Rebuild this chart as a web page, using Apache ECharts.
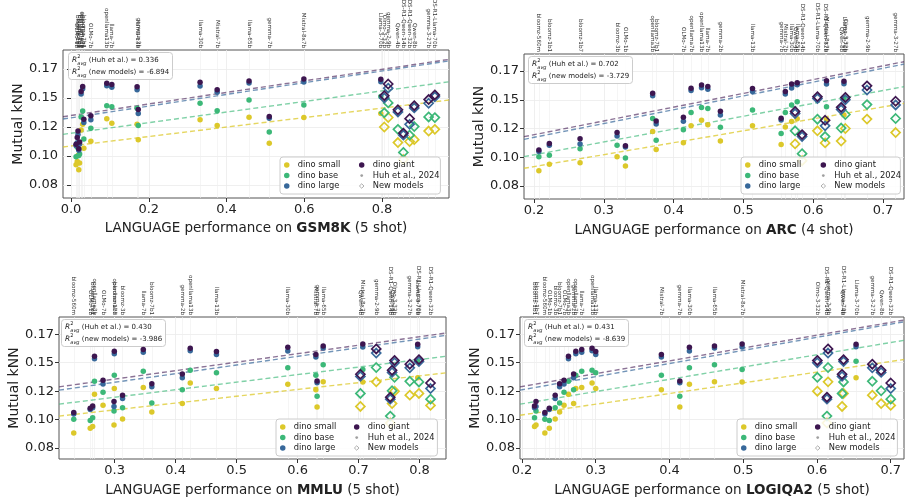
<!DOCTYPE html>
<html><head><meta charset="utf-8">
<script src="https://cdn.jsdelivr.net/npm/echarts@6/dist/echarts.min.js"></script>
<style>html,body{margin:0;padding:0;background:#fff}#c{width:906px;height:502px}</style>
</head><body><div id="c"></div>
<script>
// ---------------- DATA ----------------
const models = ['bloomz-560m','bloomz-1b1','bloomz-1b7','bloomz-3b','bloomz-7b1','OLMo-1b','OLMo-7b',
  'openllama3b','openllama7b','openllama13b','llama-7b','llama-13b','llama-30b','llama-65b',
  'gemma-2b','gemma-7b','Mistral-7b','Mixtral-8x7b','Llama-3-70b','Olmo-3-32b','gemma-2-9b',
  'Qwen-4b','DS-R1-Qwen-14b','DS-R1-Qwen-32b','Qwen-8b','gemma-3-27b','DS-R1-Llama-70b'];
// 1 = new model (hollow diamond), 0 = Huh et al. 2024 (filled circle)
const isNew = [0,0,0,0,0,0,0, 0,0,0,0,0,0,0, 0,0,0,0,0,1,1, 1,1,1,1,1,1];

// Mutual kNN per DINO size
const knnSmall = [0.0882,0.0940,0.0953,0.1005,0.1068,0.0924,0.1127, 0.1224,0.1273,0.1322,0.1282,0.1274,0.1312,0.1334,
  0.1141,0.1110,0.1263,0.1331,0.1367,0.1250,0.1332, 0.1116,0.0970,0.1125,0.1141,0.1215,0.1230];
const knnBase  = [0.1004,0.1017,0.1075,0.1105,0.1147,0.0993,0.1240, 0.1337,0.1389,0.1433,0.1425,0.1411,0.1455,0.1483,
  0.1262,0.1206,0.1390,0.1440,0.1514,0.1372,0.1458, 0.1230,0.1031,0.1180,0.1254,0.1337,0.1331];
const knnLarge = [0.1050,0.1104,0.1115,0.1185,0.1289,0.1090,0.1313, 0.1535,0.1580,0.1605,0.1592,0.1572,0.1603,0.1630,
  0.1367,0.1325,0.1550,0.1638,0.1640,0.1500,0.1585, 0.1380,0.1180,0.1273,0.1415,0.1455,0.1510];
const knnGiant = [0.1063,0.1120,0.1160,0.1215,0.1316,0.1101,0.1347, 0.1556,0.1600,0.1628,0.1616,0.1598,0.1637,0.1647,
  0.1400,0.1340,0.1572,0.1665,0.1662,0.1520,0.1621, 0.1399,0.1197,0.1322,0.1434,0.1487,0.1527];

// Language performance per benchmark
const xGsm8k = [0.020,0.022,0.016,0.018,0.033,0.013,0.051, 0.026,0.030,0.092,0.105,0.170,0.332,0.458,
  0.173,0.510,0.376,0.599,0.797,0.806,0.816, 0.841,0.855,0.871,0.883,0.920,0.936];
const xArc = [0.207,0.222,0.266,0.319,0.375,0.331,0.414, 0.370,0.425,0.440,0.449,0.513,0.569,0.577,
  0.467,0.554,0.560,0.619,0.644,0.646,0.677, 0.574,0.584,0.617,0.640,0.718,0.606];
const xMmlu = [0.233,0.264,0.299,0.313,0.361,0.260,0.281, 0.267,0.2995,0.424,0.347,0.467,0.584,0.642,
  0.411,0.632,0.630,0.707,0.797,0.759,0.729, 0.703,0.752,0.818,0.755,0.784,0.799];
const xLogiqa2 = [0.231,0.217,0.219,0.245,0.251,0.237,0.257, 0.263,0.273,0.295,0.281,0.300,0.427,0.461,
  0.270,0.414,0.389,0.4985,0.653,0.6005,0.615, 0.634,0.6135,0.700,0.687,0.675,0.636];

// Dashed fit lines: [value at left edge, value at right edge] for small, base, large, giant
const fitGsm8k   = [[0.1078,0.1483],[0.1187,0.1640],[0.1319,0.1820],[0.1339,0.1833]];
const fitArc     = [[0.0904,0.1469],[0.1005,0.1614],[0.1156,0.1810],[0.1179,0.1831]];
const fitMmlu    = [[0.1031,0.1411],[0.1136,0.1557],[0.1259,0.1741],[0.1288,0.1761]];
const fitLogiqa2 = [[0.1039,0.1528],[0.1136,0.1697],[0.1259,0.1860],[0.1288,0.1875]];

const r2Gsm8k = ['0.336','-6.894'];
const r2Arc = ['0.702','-3.729'];
const r2Mmlu = ['0.430','-3.986'];
const r2Logiqa2 = ['0.431','-8.639'];

const xTicksGsm8k = [0.0,0.2,0.4,0.6,0.8];
const xTicksArc = [0.2,0.3,0.4,0.5,0.6,0.7];
const xTicksMmlu = [0.3,0.4,0.5,0.6,0.7,0.8];
const xTicksLogiqa2 = [0.2,0.3,0.4,0.5,0.6,0.7];

const yTickValues = [0.075,0.100,0.125,0.150,0.175];
const yTickLabels = ['0.08','0.10','0.12','0.15','0.17'];

const sizeNames = ['dino small','dino base','dino large','dino giant'];
const legendCol2 = ['dino giant','Huh et al., 2024','New models'];

// ---------------- LAYOUT ----------------
const panels = [
  {bench:'GSM8K', shot:'5 shot', xs:xGsm8k, ticks:xTicksGsm8k, fit:fitGsm8k, r2:r2Gsm8k,
   xmin:-0.0206, xmax:0.9724, ymin:0.0638, ymax:0.1914, left:63, top:50, width:386, height:148, gap:23,
   leg:[280,157], col2:355.7, legW:164, box:[68,52]},
  {bench:'ARC', shot:'4 shot', xs:xArc, ticks:xTicksArc, fit:fitArc, r2:r2Arc,
   xmin:0.1857, xmax:0.730, ymin:0.0637, ymax:0.1898, left:524, top:54, width:380, height:145, gap:24,
   leg:[741,157], col2:817.3, legW:163, box:[528,56]},
  {bench:'MMLU', shot:'5 shot', xs:xMmlu, ticks:xTicksMmlu, fit:fitMmlu, r2:r2Mmlu,
   xmin:0.2088, xmax:0.8434, ymin:0.0654, ymax:0.1902, left:59, top:317, width:387, height:142, gap:24,
   leg:[276,419], col2:350.7, legW:165, box:[61,319]},
  {bench:'LOGIQA2', shot:'5 shot', xs:xLogiqa2, ticks:xTicksLogiqa2, fit:fitLogiqa2, r2:r2Logiqa2,
   xmin:0.1973, xmax:0.718, ymin:0.0654, ymax:0.1902, left:520, top:317, width:384, height:142, gap:24,
   leg:[737,419], col2:811.7, legW:164, box:[524,319]}
];
const colors = ['#dcc82a','#3cb878','#37689a','#3d1650'];
const lineColors = ['rgba(220,200,42,0.75)','rgba(60,184,120,0.65)','rgba(55,104,154,0.7)','rgba(61,22,80,0.6)'];
const knnAll = [knnSmall, knnBase, knnLarge, knnGiant];
const FONT = 'DejaVu Sans';

const legendItem = {
  'dino small': {icon:'circle', itemStyle:{color:colors[0]}},
  'dino base': {icon:'circle', itemStyle:{color:colors[1]}},
  'dino large': {icon:'circle', itemStyle:{color:colors[2]}},
  'dino giant': {icon:'circle', itemStyle:{color:colors[3]}},
  'Huh et al., 2024': {icon:'path://M0,0L0,0M12,6L12,6M7.5,3A1.5,1.5 0 1 1 4.5,3A1.5,1.5 0 1 1 7.5,3Z', itemStyle:{color:'#888'}},
  'New models': {icon:'path://M0,0L0,0M12,6L12,6M6,0.6L8.5,3L6,5.4L3.5,3Z',
    itemStyle:{color:'rgba(255,255,255,0)', borderColor:'#9a9a9a', borderWidth:1}}
};

const grid=[], xAxis=[], yAxis=[], series=[], legend=[], title=[];
panels.forEach((p, pi) => {
  grid.push({left:p.left, top:p.top, width:p.width, height:p.height, show:true,
    borderColor:'#555', borderWidth:1, backgroundColor:'rgba(0,0,0,0)', containLabel:false, outerBoundsMode:'none'});
  xAxis.push({gridIndex:pi, type:'value', position:'bottom', min:p.xmin, max:p.xmax,
    name:'LANGUAGE performance on {b|' + p.bench + '} (' + p.shot + ')', nameLocation:'middle', nameGap:p.gap,
    nameTextStyle:{fontSize:13.5, color:'#222', fontFamily:FONT, rich:{b:{fontSize:13.5, fontWeight:'bold', color:'#222', fontFamily:FONT}}},
    axisLine:{show:false},
    axisTick:{show:true, customValues:p.ticks, length:4, lineStyle:{color:'#333', width:1}},
    axisLabel:{customValues:p.ticks, formatter:v => v.toFixed(1), fontSize:13, color:'#222', margin:5, fontFamily:FONT},
    splitLine:{show:true, lineStyle:{color:'#ebebeb', width:0.8}}});
  const uniq = [];
  p.xs.forEach(v => { if (!uniq.some(u => Math.abs(u - v) < 1e-9)) uniq.push(v); });
  xAxis.push({gridIndex:pi, type:'value', position:'top', min:p.xmin, max:p.xmax,
    axisLine:{show:false}, axisTick:{show:false, customValues:uniq},
    axisLabel:{customValues:uniq, rotate:90, fontSize:5.6, color:'#333', margin:2, fontFamily:FONT,
      formatter:v => models.filter((m, i) => Math.abs(p.xs[i] - v) < 1e-9).join('\n')},
    splitLine:{show:true, lineStyle:{color:'#eeeeee', width:0.6}}});
  yAxis.push({gridIndex:pi, type:'value', min:p.ymin, max:p.ymax,
    name:'Mutual kNN', nameLocation:'middle', nameGap:33,
    nameTextStyle:{fontSize:14, color:'#222', fontFamily:FONT},
    axisLine:{show:false},
    axisTick:{show:true, customValues:yTickValues, length:4, lineStyle:{color:'#333'}},
    axisLabel:{customValues:yTickValues, fontSize:13, color:'#222', margin:5, fontFamily:FONT,
      formatter:v => yTickLabels[yTickValues.findIndex(t => Math.abs(t - v) < 1e-9)]},
    splitLine:{show:true, lineStyle:{color:'#ebebeb', width:0.8}}});

  // fit lines
  p.fit.forEach((f, s) => {
    series.push({type:'line', name:'fit ' + sizeNames[s], xAxisIndex:2*pi, yAxisIndex:pi,
      data:[[p.xmin, f[0]], [p.xmax, f[1]]], symbol:'none', silent:true, z:1,
      lineStyle:{color:lineColors[s], width:1.4, type:[5,3]}});
  });
  // points
  knnAll.forEach((k, s) => {
    const huh = [], nw = [];
    models.forEach((m, i) => { (isNew[i] ? nw : huh).push([p.xs[i], k[i]]); });
    series.push({type:'scatter', name:sizeNames[s], xAxisIndex:2*pi, yAxisIndex:pi, data:huh,
      symbol:'circle', symbolSize:5.5, z:3 + s, itemStyle:{color:colors[s], opacity:1}});
    series.push({type:'scatter', name:sizeNames[s], xAxisIndex:2*pi, yAxisIndex:pi, data:nw,
      symbol:'diamond', symbolSize:9, z:3 + s,
      itemStyle:{color:'rgba(255,255,255,0)', borderColor:colors[s], borderWidth:1.7, opacity:1}});
  });

  const common = {orient:'vertical', itemWidth:12, itemHeight:5.5, itemGap:0.5, selectedMode:false,
    textStyle:{fontSize:8.3, color:'#222', fontFamily:FONT, lineHeight:10}};
  const col1 = sizeNames.slice(0, 3);
  // column 1 carries the frame of the whole legend box
  legend.push(Object.assign({}, common, {left:p.leg[0], top:p.leg[1],
    padding:[3, p.legW - 64, 3, 4], borderColor:'#cccccc', borderWidth:1, borderRadius:3,
    backgroundColor:'rgba(255,255,255,0.85)', z:10,
    data:col1.map(n => Object.assign({name:n}, legendItem[n]))}));
  legend.push(Object.assign({}, common, {left:p.col2, top:p.leg[1] + 3, padding:0, z:11,
    data:legendCol2.map(n => Object.assign({name:n}, legendItem[n]))}));

  const rt = '{r|R}{sup|2}{sub|avg}';
  title.push({left:p.box[0], top:p.box[1],
    text: rt + ' (Huh et al.) = ' + p.r2[0] + '\n' + rt + ' (new models) = ' + p.r2[1],
    padding:[2,4,2,4], borderColor:'#cccccc', borderWidth:1, borderRadius:3, backgroundColor:'rgba(255,255,255,0.85)',
    textStyle:{fontSize:7, fontWeight:'normal', color:'#222', lineHeight:12, fontFamily:FONT,
      rich:{r:{fontSize:7.5, fontStyle:'italic', color:'#222', lineHeight:12, fontFamily:FONT},
            sup:{fontSize:5, color:'#222', verticalAlign:'top', lineHeight:12, fontFamily:FONT, width:0.1, align:'left'},
            sub:{fontSize:5, fontStyle:'italic', color:'#222', verticalAlign:'bottom', lineHeight:12, fontFamily:FONT}}}});
});
// legend-only helper series
series.push({type:'scatter', name:'Huh et al., 2024', xAxisIndex:0, yAxisIndex:0, data:[], itemStyle:{color:'#888'}});
series.push({type:'scatter', name:'New models', xAxisIndex:0, yAxisIndex:0, data:[], symbol:'diamond', itemStyle:{color:'#999'}});

const chart = echarts.init(document.getElementById('c'), null, {renderer:'canvas'});
chart.setOption({animation:false, backgroundColor:'#fff', textStyle:{fontFamily:FONT},
  grid, xAxis, yAxis, series, legend, title});
</script></body></html>
